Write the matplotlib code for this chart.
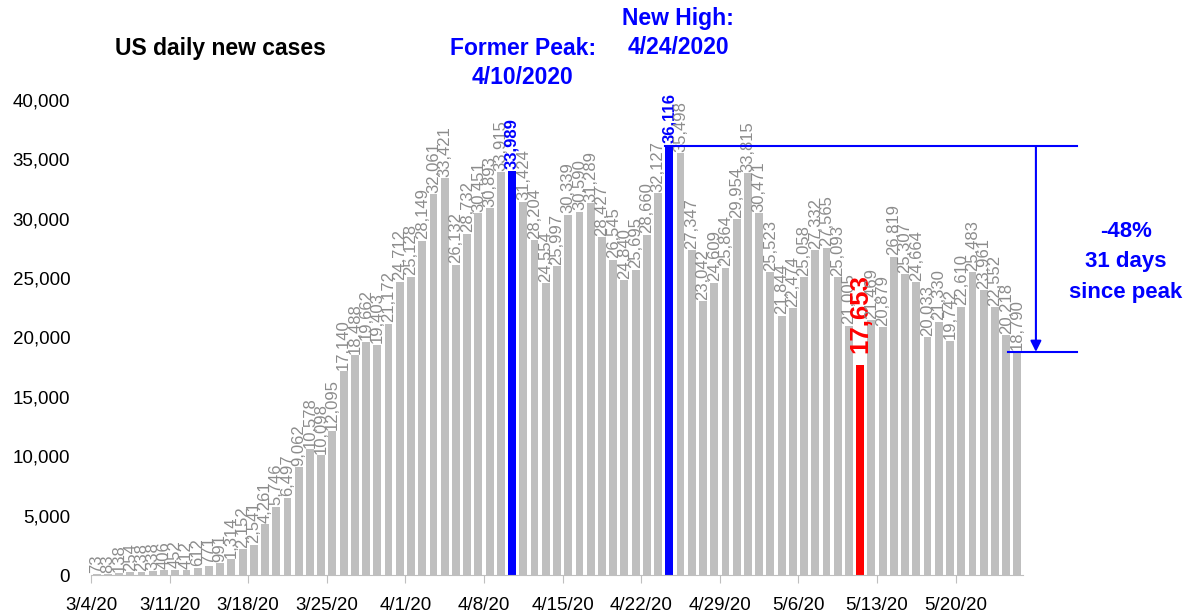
import matplotlib
matplotlib.use('Agg')
import matplotlib.pyplot as plt

plt.rcParams['font.family'] = ['Liberation Sans', 'DejaVu Sans']

# daily new cases, 3/4/20 .. 5/25/20
march = [73, 83, 138, 254, 238, 338, 406, 452, 412, 612, 771, 991, 1314, 2152,
         2541, 4261, 5746, 6497, 9062, 10578, 10098, 12095, 17140, 18488, 19662,
         19403, 21172, 24712]
april = [25128, 28149, 32061, 33421, 26132, 28732, 30451, 30893, 33915, 33989,
         31424, 28204, 24554, 25997, 30339, 30590, 31289, 28427, 26545, 24840,
         25695, 28660, 32127, 36116, 35498, 27347, 23042, 24609, 25864, 29954]
may = [33815, 30471, 25523, 21844, 22474, 25058, 27332, 27565, 25093, 21005,
       17653, 21469, 20879, 26819, 25307, 24664, 20033, 21330, 19742, 22610,
       25483, 23961, 22552, 20218, 18790]
cases = march + april + may
dates = ['3/%d/20' % d for d in range(4, 32)] + \
        ['4/%d/20' % d for d in range(1, 31)] + \
        ['5/%d/20' % d for d in range(1, 26)]

former_peak = dates.index('4/10/20')
new_high = dates.index('4/24/20')
low_day = dates.index('5/11/20')
last = len(cases) - 1

BLUE = '#0000ff'
RED = '#ff0000'
GRAY = '#bfbfbf'

fig = plt.figure(figsize=(11.87, 6.15), dpi=100)
ax = fig.add_axes([91/1187, 40/615, 932/1187, 475/615])

colors = [GRAY] * len(cases)
colors[former_peak] = BLUE
colors[new_high] = BLUE
colors[low_day] = RED
ax.bar(range(len(cases)), cases, width=0.7, color=colors, zorder=2)

for i, v in enumerate(cases):
    if i in (former_peak, new_high):
        ax.annotate('{:,}'.format(v), (i, v), xytext=(0, 2), textcoords='offset points',
                    rotation=90, ha='center', va='bottom', fontsize=12,
                    fontweight='bold', color=BLUE)
    elif i == low_day:
        ax.annotate('{:,}'.format(v), (i, v), xytext=(0, 9), textcoords='offset points',
                    rotation=90, ha='center', va='bottom', fontsize=18.5,
                    fontweight='bold', color=RED)
    else:
        ax.annotate('{:,}'.format(v), (i, v), xytext=(0, 1), textcoords='offset points',
                    rotation=90, ha='center', va='bottom', fontsize=12,
                    color='#8c8c8c')

ax.set_xlim(-0.5, len(cases) - 0.5)
ax.set_ylim(0, 40000)
ax.set_yticks(range(0, 40001, 5000))
ax.set_yticklabels(['{:,}'.format(t) for t in range(0, 40001, 5000)], fontsize=13.5)
week = list(range(0, len(cases), 7))
ax.set_xticks([w - 0.5 for w in week])
ax.set_xticklabels([dates[w] for w in week], fontsize=13.5)
ax.tick_params(axis='y', length=0, pad=15)
ax.tick_params(axis='x', length=6, color='#bfbfbf', pad=10)
for s in ('top', 'right', 'left'):
    ax.spines[s].set_visible(False)
ax.spines['bottom'].set_color('#bfbfbf')

# drop from the new high to the latest day
ax.plot([new_high - 0.35, 87.3], [cases[new_high]] * 2, color=BLUE, lw=1.5,
        clip_on=False, zorder=3)
ax.plot([81.2, 87.3], [cases[last]] * 2, color=BLUE, lw=1.5, clip_on=False, zorder=3)
ax.annotate('', xy=(83.65, cases[last]), xytext=(83.65, cases[new_high]),
            arrowprops=dict(arrowstyle='-|>', color=BLUE, lw=1.5, mutation_scale=16,
                            shrinkA=0, shrinkB=0), annotation_clip=False)

drop = round((cases[last] / cases[new_high] - 1) * 100)
fig.text(1126/1187, 1 - 262/615, '%d%%\n31 days\nsince peak' % drop, color=BLUE,
         fontsize=16, fontweight='bold', ha='center', va='center', linespacing=1.6)

fig.text(115/1187, 1 - 48/615, 'US daily new cases', fontsize=16.5, fontweight='bold',
         ha='left', va='center')
fig.text(523/1187, 1 - 63/615, 'Former Peak:\n4/10/2020', color=BLUE, fontsize=16.5,
         fontweight='bold', ha='center', va='center', linespacing=1.3)
fig.text(678/1187, 1 - 33/615, 'New High:\n4/24/2020', color=BLUE, fontsize=16.5,
         fontweight='bold', ha='center', va='center', linespacing=1.3)

fig.savefig('out.png', dpi=100)
